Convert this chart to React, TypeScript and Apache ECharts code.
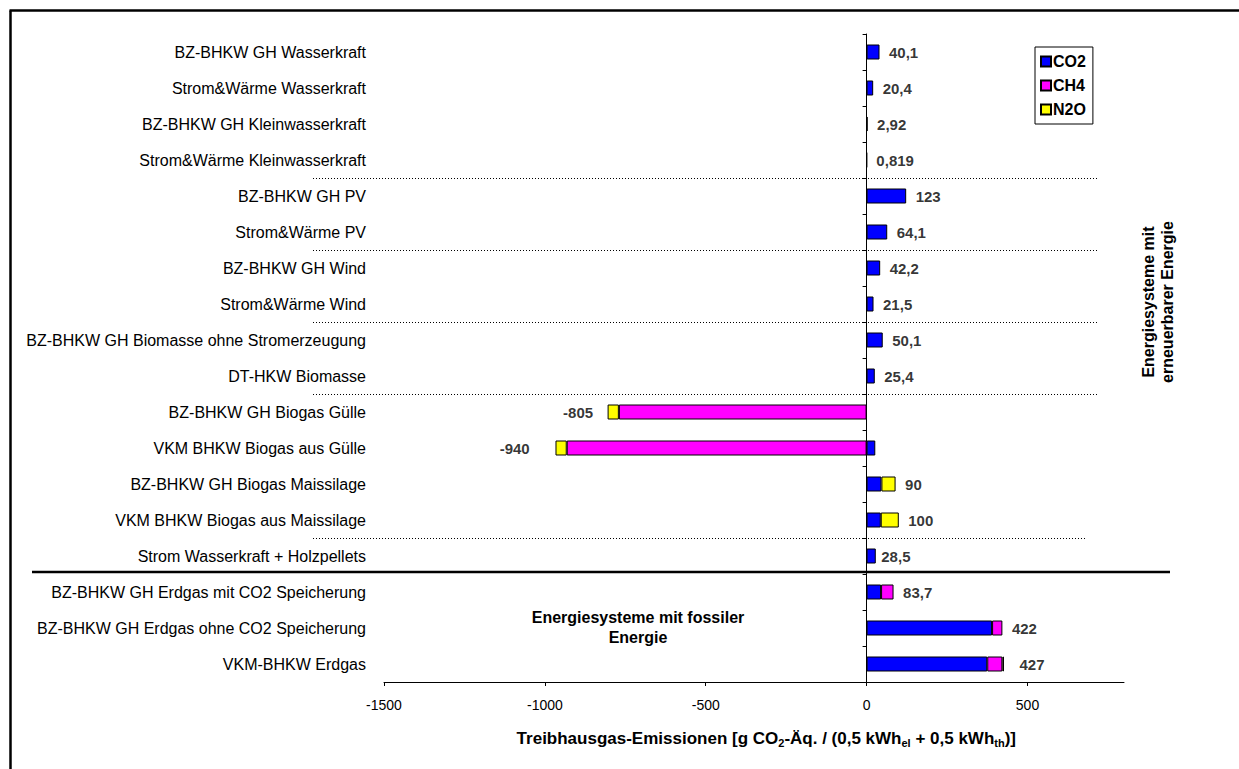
import React, { useEffect, useRef } from "react";
import * as echarts from "echarts";

const CATEGORIES = [
  "BZ-BHKW GH Wasserkraft",
  "Strom&Wärme Wasserkraft",
  "BZ-BHKW GH Kleinwasserkraft",
  "Strom&Wärme Kleinwasserkraft",
  "BZ-BHKW GH PV",
  "Strom&Wärme PV",
  "BZ-BHKW GH Wind",
  "Strom&Wärme Wind",
  "BZ-BHKW GH Biomasse ohne Stromerzeugung",
  "DT-HKW Biomasse",
  "BZ-BHKW GH Biogas Gülle",
  "VKM BHKW Biogas aus Gülle",
  "BZ-BHKW GH Biogas Maissilage",
  "VKM BHKW Biogas aus Maissilage",
  "Strom Wasserkraft + Holzpellets",
  "BZ-BHKW GH Erdgas mit CO2 Speicherung",
  "BZ-BHKW GH Erdgas ohne CO2 Speicherung",
  "VKM-BHKW Erdgas",
];

const CO2 = [40.1, 20.4, 2.92, 0.819, 123, 64.1, 42.2, 21.5, 50.1, 25.4, 0, 27, 46, 44, 28.5, 45, 390, 375];
const CH4 = [0, 0, 0, 0, 0, 0, 0, 0, 0, 0, -770, -932, 0, 0, 0, 38.7, 32, 47];
const N2O = [0, 0, 0, 0, 0, 0, 0, 0, 0, 0, -35, -35, 44, 56, 0, 0, 0, 5];
const TOTALS = [40.1, 20.4, 2.92, 0.819, 123, 64.1, 42.2, 21.5, 50.1, 25.4, -805, -940, 90, 100, 28.5, 83.7, 422, 427];

const X_TICKS = [-1500, -1000, -500, 0, 500];
const X_MIN = -1500;
const X_MAX = 800;

// separators after these category indices
const DOTTED_AFTER = [3, 5, 7, 9, 13];
const SOLID_AFTER = 14;

const FONT = "'Liberation Sans', Arial, sans-serif";

export default function App() {
  const ref = useRef<HTMLDivElement>(null);

  useEffect(() => {
    document.body.style.margin = "0";
    if (!ref.current) return;
    const chart = echarts.init(ref.current, undefined, { renderer: "svg" });

    const nz = (arr: number[]) => arr.map((v) => (v === 0 ? null : v));
    const barStyle = (color: string) => ({
      color,
      borderColor: "#000",
      borderWidth: 1,
    });

    const labelDistance = (i: number, v: number) => {
      if (i === 11) return 34;
      if (v < 0) return 14;
      if (i === 17) return 15;
      if (i === 14) return 5;
      return 9;
    };

    chart.setOption({
      animation: false,
      textStyle: { fontFamily: FONT },
      grid: { left: 384, top: 34, width: 740, height: 648, containLabel: false },
      legend: {
        data: ["CO2", "CH4", "N2O"],
        orient: "vertical",
        left: 1035,
        top: 47,
        itemWidth: 10,
        itemHeight: 10,
        itemGap: 7,
        icon: "rect",
        borderColor: "#000",
        borderWidth: 1,
        padding: [6, 7, 6, 5],
        textStyle: {
          fontFamily: FONT,
          fontWeight: "bold",
          fontSize: 16,
          lineHeight: 17,
          color: "#000",
          padding: [0, 0, 0, -3],
        },
      },
      xAxis: {
        type: "value",
        min: X_MIN,
        max: X_MAX,
        interval: 500,
        axisLine: { show: true, onZero: false, lineStyle: { color: "#000", width: 1 } },
        axisTick: { show: true, length: 4, customValues: X_TICKS, lineStyle: { color: "#000" } },
        axisLabel: {
          customValues: X_TICKS,
          formatter: (v: number) => String(v),
          margin: 16,
          fontSize: 14,
          color: "#000",
          fontFamily: FONT,
        },
        splitLine: { show: false },
      },
      yAxis: [
        {
          type: "category",
          data: CATEGORIES,
          inverse: true,
          axisLine: { show: true, onZero: true, lineStyle: { color: "#000", width: 1 } },
          axisTick: { show: true, length: 4, lineStyle: { color: "#000" } },
          axisLabel: { show: false },
        },
        {
          type: "category",
          data: CATEGORIES,
          inverse: true,
          position: "left",
          axisLine: { show: false, onZero: false },
          axisTick: { show: false },
          axisLabel: { show: true, margin: 18, fontSize: 16, color: "#000", fontFamily: FONT },
        },
      ],
      series: [
        { name: "CO2", type: "bar", stack: "total", barWidth: 15, data: nz(CO2), itemStyle: barStyle("#0000FF") },
        { name: "CH4", type: "bar", stack: "total", barWidth: 15, data: nz(CH4), itemStyle: barStyle("#FF00FF") },
        { name: "N2O", type: "bar", stack: "total", barWidth: 15, data: nz(N2O), itemStyle: barStyle("#FFFF00") },
        {
          name: "labels",
          type: "scatter",
          symbol: "rect",
          symbolSize: 1,
          itemStyle: { color: "rgba(0,0,0,0)" },
          silent: true,
          z: 5,
          data: TOTALS.map((v, i) => ({
            value: [v, i],
            label: {
              show: true,
              position: v < 0 ? "left" : "right",
              distance: labelDistance(i, v),
              formatter: () => String(v).replace(".", ","),
              fontFamily: FONT,
              fontWeight: "bold",
              fontSize: 15,
              color: "#000",
            },
          })),
        },
      ],
    });

    const yOf = (i: number) => {
      const a = chart.convertToPixel({ yAxisIndex: 0 }, i) as number;
      const b = chart.convertToPixel({ yAxisIndex: 0 }, i + 1) as number;
      return (a + b) / 2;
    };

    const graphics: any[] = [];
    DOTTED_AFTER.forEach((i) => {
      const y = Math.round(yOf(i)) + 0.5;
      graphics.push({
        type: "line",
        shape: { x1: 313, y1: y, x2: i === 13 ? 1085 : 1097, y2: y },
        style: { stroke: "#000", lineWidth: 1, lineDash: [1, 2] },
        z: 10,
      });
    });
    const ys = yOf(SOLID_AFTER) - 2;
    graphics.push({
      type: "line",
      shape: { x1: 32, y1: ys, x2: 1170, y2: ys },
      style: { stroke: "#000", lineWidth: 2.5 },
      z: 10,
    });
    // outer frame: only top and left edges are inside the picture
    graphics.push({
      type: "line",
      shape: { x1: 10.5, y1: 10.5, x2: 10.5, y2: 769 },
      style: { stroke: "#000", lineWidth: 2.5 },
      z: 10,
    });
    graphics.push({
      type: "line",
      shape: { x1: 9.5, y1: 10.5, x2: 1239, y2: 10.5 },
      style: { stroke: "#000", lineWidth: 2.5 },
      z: 10,
    });
    graphics.push({
      type: "text",
      x: 638,
      y: 627,
      style: {
        text: "Energiesysteme mit fossiler\nEnergie",
        font: `bold 16px ${FONT}`,
        fill: "#000",
        align: "center",
        verticalAlign: "middle",
        lineHeight: 20,
      },
      z: 10,
    });
    graphics.push({
      type: "text",
      x: 1158,
      y: 302,
      rotation: Math.PI / 2,
      style: {
        text: "Energiesysteme mit\nerneuerbarer Energie",
        font: `bold 16px ${FONT}`,
        fill: "#000",
        align: "center",
        verticalAlign: "middle",
        lineHeight: 19,
      },
      z: 10,
    });
    graphics.push({
      type: "text",
      x: 1016,
      y: 738,
      style: {
        text: "{b|Treibhausgas-Emissionen [g CO}{s|2}{b|-Äq. / (0,5 kWh}{s|el}{b| + 0,5 kWh}{s|th}{b|)]}",
        align: "right",
        verticalAlign: "middle",
        rich: {
          b: { font: `bold 17px ${FONT}`, fill: "#000", color: "#000", lineHeight: 20, verticalAlign: "middle" },
          s: { font: `bold 11px ${FONT}`, fill: "#000", color: "#000", lineHeight: 20, verticalAlign: "bottom", padding: [7, 0, 0, 0] },
        },
      },
      z: 10,
    });

    chart.setOption({ graphic: graphics });

    return () => chart.dispose();
  }, []);

  return <div ref={ref} style={{ width: 1239, height: 769 }} />;
}
